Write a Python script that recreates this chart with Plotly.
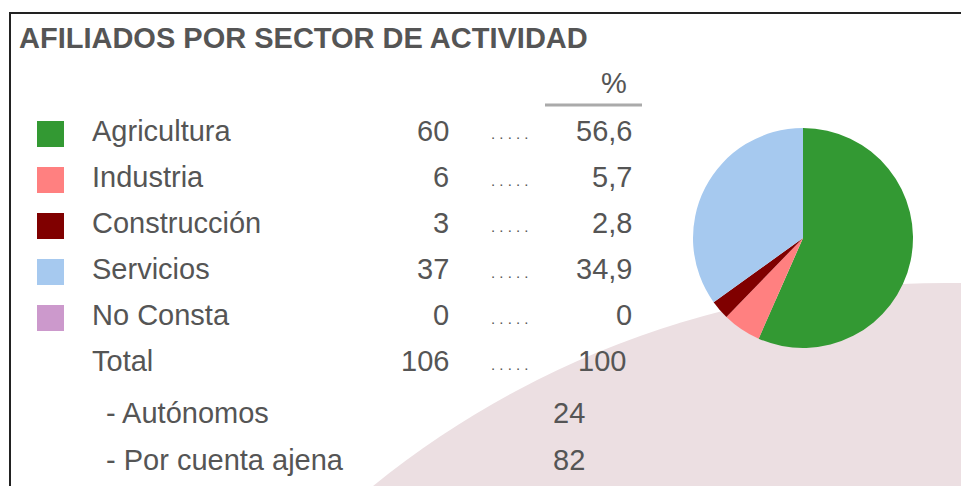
import plotly.graph_objects as go

# ---- data ----
title_text = "AFILIADOS POR SECTOR DE ACTIVIDAD"
sectors = ["Agricultura", "Industria", "Construcción", "Servicios", "No Consta"]
counts = [60, 6, 3, 37, 0]
pct_labels = ["56,6", "5,7", "2,8", "34,9", "0"]
total_label = "Total"
total_count = 106
total_pct = "100"
sub_labels = ["- Autónomos", "- Por cuenta ajena"]
sub_values = [24, 82]
sector_colors = ["#339933", "#FF8080", "#800000", "#A6C9EF", "#CC99CC"]

W, H = 961, 486
def px(x):
    return x / W
def py(y):
    return 1 - y / H

FONT = "Liberation Sans, Arial, sans-serif"
TXT = "#555555"
FS = 29

fig = go.Figure()
fig.add_trace(go.Pie(
    values=counts, labels=sectors, sort=False, direction="clockwise", rotation=0,
    marker=dict(colors=sector_colors, line=dict(width=0)),
    textinfo="none", hoverinfo="label+value+percent", showlegend=False,
    domain=dict(x=[px(693), px(913)], y=[py(348), py(128)]),
))

shapes = []
# big pale background circle
shapes.append(dict(type="circle", xref="paper", yref="paper", layer="below",
                   x0=px(36), x1=px(1856), y0=py(2103), y1=py(283),
                   fillcolor="#ECDFE2", line=dict(width=0)))
# frame
shapes.append(dict(type="rect", xref="paper", yref="paper", layer="above",
                   x0=px(10), x1=px(1010), y0=py(540), y1=py(13),
                   line=dict(color="#222222", width=2), fillcolor="rgba(0,0,0,0)"))
# header underline for %
shapes.append(dict(type="line", xref="paper", yref="paper",
                   x0=px(545), x1=px(642), y0=py(105), y1=py(105),
                   line=dict(color="#AAAAAA", width=3)))

annotations = []
def ann(text, x, y, anchor="left", size=FS, color=TXT, bold=False):
    annotations.append(dict(
        text=("<b>%s</b>" % text) if bold else text,
        x=px(x), y=py(y), xref="paper", yref="paper",
        xanchor=anchor, yanchor="middle", showarrow=False,
        font=dict(family=FONT, size=size, color=color)))

ann(title_text, 17, 38, bold=True, size=29, color="#555555")
ann("%", 629, 83, anchor="right")

row_y = [131, 177, 223, 269, 315, 361]
for i, name in enumerate(sectors):
    y = row_y[i]
    shapes.append(dict(type="rect", xref="paper", yref="paper",
                       x0=px(37), x1=px(64), y0=py(y + 16), y1=py(y - 10),
                       fillcolor=sector_colors[i], line=dict(width=0)))
    ann(name, 90, y)
    ann(str(counts[i]), 451, y, anchor="right")
    ann(". . . . .", 489, y + 3, size=15)
    ann(pct_labels[i], 634, y, anchor="right")

yt = row_y[5]
ann(total_label, 90, yt)
ann(str(total_count), 451, yt, anchor="right")
ann(". . . . .", 489, yt + 3, size=15)
ann(total_pct, 628, yt, anchor="right")

for lbl, val, y in zip(sub_labels, sub_values, [413, 460]):
    ann(lbl, 104, y)
    ann(str(val), 551, y)

fig.update_layout(
    width=W, height=H, autosize=False,
    margin=dict(l=0, r=0, t=0, b=0),
    paper_bgcolor="white", plot_bgcolor="white",
    shapes=shapes, annotations=annotations,
)
fig.write_html("out.html")
